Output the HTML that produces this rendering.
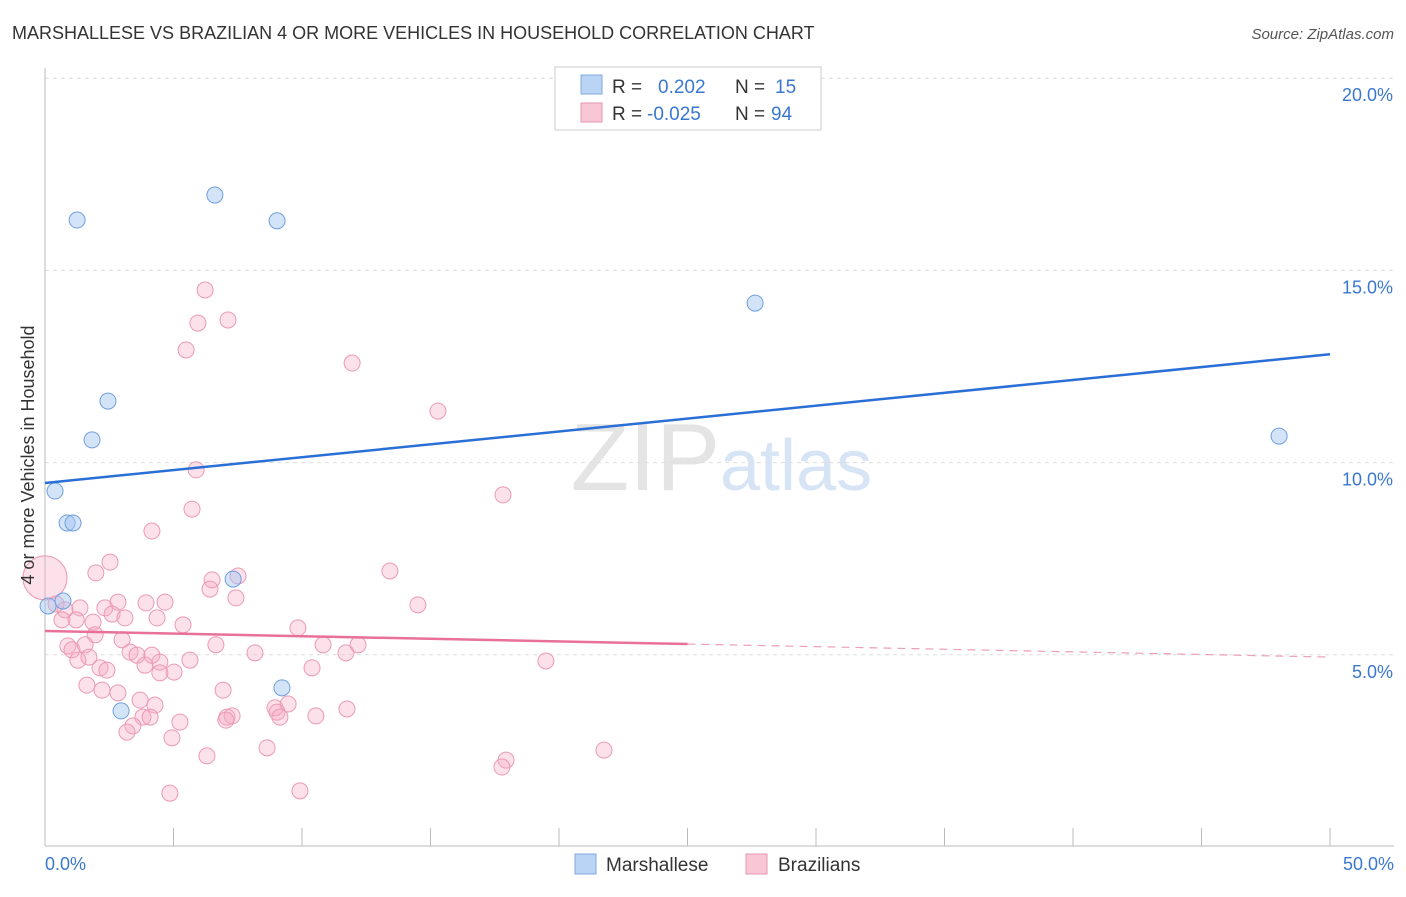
<!DOCTYPE html>
<html><head><meta charset="utf-8">
<style>
body{margin:0;background:#fff;font-family:"Liberation Sans",sans-serif;}
svg text{font-family:"Liberation Sans",sans-serif;}
</style></head>
<body>
<svg id="chart" width="1406" height="892">
<text x="12" y="39" font-size="18" fill="#333">MARSHALLESE VS BRAZILIAN 4 OR MORE VEHICLES IN HOUSEHOLD CORRELATION CHART</text>
<text x="1394" y="39" font-size="15" fill="#555" font-style="italic" text-anchor="end">Source: ZipAtlas.com</text>
<text x="720" y="490" font-size="96" fill="#e4e4e4" text-anchor="end" font-family="Liberation Serif">ZIP</text>
<text x="720" y="490" font-size="72" fill="#d6e4f5">atlas</text>
<g id="grid"></g>
<g id="axes"></g>
<g id="marks"></g>
<text transform="translate(34,455) rotate(-90)" font-size="18" fill="#333" text-anchor="middle">4 or more Vehicles in Household</text>
<g>
<rect x="555" y="67" width="266" height="63" fill="#fff" stroke="#ccc"/>
<rect x="581" y="75" width="21" height="19" fill="#b9d4f4" stroke="#7fa8dc"/>
<rect x="581" y="103" width="21" height="19" fill="#f9c6d5" stroke="#e796b0"/>
<text x="612" y="93" font-size="19" fill="#333">R = </text><text x="658" y="93" font-size="19" fill="#3a78d0">0.202</text>
<text x="735" y="93" font-size="19" fill="#333">N = </text><text x="775" y="93" font-size="19" fill="#3a78d0">15</text>
<text x="612" y="120" font-size="19" fill="#333">R = </text><text x="647" y="120" font-size="19" fill="#3a78d0">-0.025</text>
<text x="735" y="120" font-size="19" fill="#333">N = </text><text x="771" y="120" font-size="19" fill="#3a78d0">94</text>
</g>
<g>
<rect x="575" y="854" width="21" height="20" fill="#b9d4f4" stroke="#7fa8dc"/>
<text x="606" y="871" font-size="19" fill="#333">Marshallese</text>
<rect x="746" y="854" width="21" height="20" fill="#f9c6d5" stroke="#e796b0"/>
<text x="778" y="871" font-size="19" fill="#333">Brazilians</text>
</g>
</svg>
<script>
const yTicks=[5,10,15,20];
const yTickLabels=["5.0%","10.0%","15.0%","20.0%"];
const xTickLabels=["0.0%","50.0%"];
const blueX=[1.25,6.61,9.03,27.63,48.02,2.45,1.83,0.39,0.86,1.09,0.70,7.32,9.22,2.96,0.12];
const blueY=[16.31,16.96,16.29,14.15,10.69,11.60,10.59,9.26,8.43,8.43,6.40,6.97,4.14,3.54,6.27];
const pinkX=[6.23,5.95,7.12,5.49,11.95,15.29,5.88,17.82,5.72,4.16,2.53,1.98,13.42,6.50,7.51,6.42,7.43,14.51,0,0.43,0.78,0.66,1.36,1.21,2.33,2.84,3.93,4.67,2.61,3.11,4.36,5.37,1.87,1.95,3.00,6.65,9.84,10.82,12.18,11.71,8.17,0.89,1.05,1.56,3.31,3.58,4.16,1.71,1.28,3.89,4.47,5.64,5.02,4.47,2.14,2.41,10.39,19.49,1.63,2.22,2.84,3.70,4.28,6.93,8.95,9.46,9.03,9.14,11.75,10.54,3.81,4.09,5.25,7.08,7.28,7.04,3.42,3.19,4.94,6.30,8.64,21.75,17.94,17.78,4.86,9.92];
const pinkY=[14.49,13.63,13.71,12.93,12.59,11.34,9.81,9.16,8.79,8.22,7.41,7.13,7.18,6.95,7.05,6.71,6.48,6.30,7.0,6.32,6.17,5.91,6.22,5.91,6.22,6.37,6.35,6.37,6.06,5.96,5.96,5.78,5.85,5.52,5.39,5.26,5.70,5.26,5.26,5.05,5.05,5.23,5.13,5.26,5.07,4.99,4.99,4.94,4.86,4.73,4.81,4.86,4.55,4.53,4.66,4.60,4.66,4.84,4.21,4.08,4.01,3.82,3.69,4.08,3.62,3.72,3.51,3.38,3.59,3.41,3.38,3.38,3.25,3.38,3.41,3.30,3.15,2.99,2.84,2.37,2.58,2.52,2.26,2.08,1.40,1.46];
const blueTrend=[9.47,12.82];
const pinkTrend=[5.62,5.28,4.94];
const sx=v=>45+v/50*1285;
const sy=v=>847-v/5*192.2;
const NS="http://www.w3.org/2000/svg";
function mk(tag,attrs,parent){const e=document.createElementNS(NS,tag);for(const k in attrs)e.setAttribute(k,attrs[k]);parent.appendChild(e);return e;}
const grid=document.getElementById('grid'),axes=document.getElementById('axes'),marks=document.getElementById('marks');
yTicks.forEach((t,i)=>{
 const g=mk('line',{x1:45,x2:1394,y1:sy(t),y2:sy(t),stroke:'#ddd','stroke-dasharray':'4,4'},grid);
 
 
 const l=mk('text',{x:1393,y:sy(t)+23,'font-size':18,fill:'#3a78d0','text-anchor':'end'},axes);
 l.textContent=yTickLabels[i];
 
 
});
const ax=mk('line',{x1:45,x2:45,y1:68,y2:846,stroke:'#bbb'},axes);


const bx=mk('line',{x1:45,x2:1394,y1:846,y2:846,stroke:'#bbb'},axes);


for(let i=0;i<=10;i++){
 const t=mk('line',{x1:sx(i*5),x2:sx(i*5),y1:828,y2:846,stroke:'#bbb'},axes);
 
 
}
[[0,'start',45],[50,'end',1394]].forEach((d,i)=>{
 const l=mk('text',{x:d[2],y:870,'font-size':18,fill:'#3a78d0','text-anchor':d[1]},axes);
 l.textContent=xTickLabels[i];
 
 
});
pinkX.forEach((x,i)=>{
 const c=mk('circle',{cx:sx(x),cy:sy(pinkY[i]),r:(x===0?22:8),fill:'rgba(246,170,195,0.35)',stroke:'#eb9ab4','stroke-width':1},marks);
 
 
});
blueX.forEach((x,i)=>{
 const c=mk('circle',{cx:sx(x),cy:sy(blueY[i]),r:8,fill:'rgba(160,196,240,0.45)',stroke:'#6f9fdc','stroke-width':1},marks);
 
 
});
const bl=mk('line',{x1:sx(0),y1:sy(blueTrend[0]),x2:sx(50),y2:sy(blueTrend[1]),stroke:'#2a6fd6','stroke-width':2.5},marks);


const pl=mk('line',{x1:sx(0),y1:sy(pinkTrend[0]),x2:sx(25),y2:sy(pinkTrend[1]),stroke:'#e8709a','stroke-width':2.5},marks);


const pd=mk('line',{x1:sx(25),y1:sy(pinkTrend[1]),x2:sx(50),y2:sy(pinkTrend[2]),stroke:'#eaa0b8','stroke-width':1.2,'stroke-dasharray':'8,6'},marks);


</script>
</body></html>
